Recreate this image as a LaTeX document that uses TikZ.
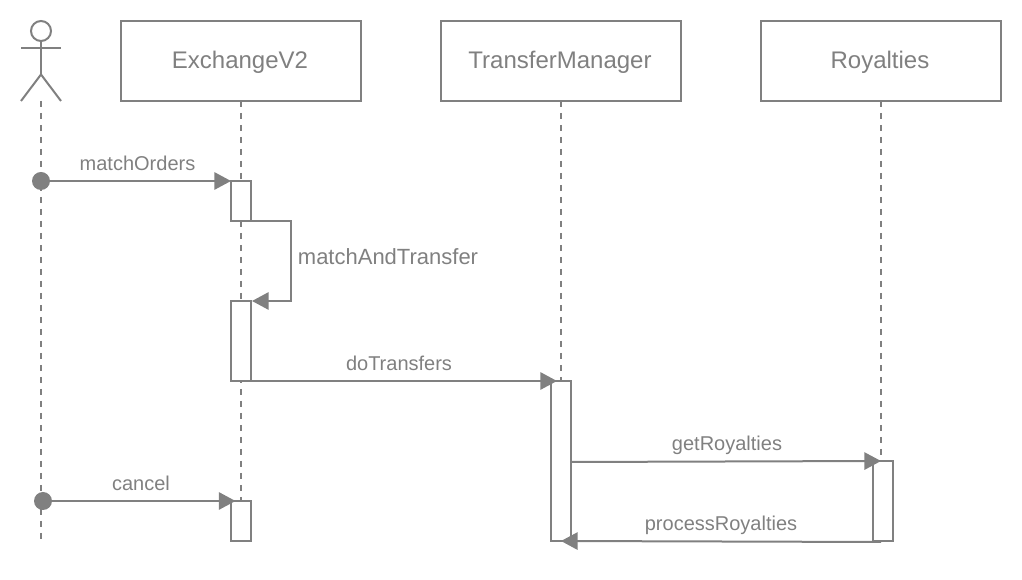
\documentclass[tikz,border=0pt]{standalone}
\usepackage{fontspec}
\setmainfont{Liberation Sans}
\usetikzlibrary{arrows.meta,calc}
\definecolor{ink}{HTML}{808080}
\tikzset{
  x=0.75pt,y=-0.75pt,
  line/.style={draw=ink,line width=1.5pt},
  lifebox/.style={line,fill=white,minimum width=180pt,minimum height=60pt,inner sep=0pt,outer sep=0pt,text=ink,font=\fontsize{18}{18}\selectfont,text height=15.5pt,text depth=3.5pt},
  lifeline/.style={line,dash pattern=on 4.5pt off 4.5pt,line width=1.5pt},
  activation/.style={line,fill=white,minimum width=15pt,inner sep=0pt,outer sep=0pt},
  msg/.style={line,-{Triangle[length=12.5pt,width=13pt,color=ink]}},
  dot/.style={circle,fill=ink,minimum size=13.5pt,inner sep=0pt,outer sep=0pt},
  lbl/.style={text=ink,inner sep=0pt,font=\fontsize{15}{15}\selectfont},
  lblbig/.style={text=ink,inner sep=0pt,font=\fontsize{16.5}{16.5}\selectfont},
}
\begin{document}
\begin{tikzpicture}
\useasboundingbox (0,0) rectangle (1022,580);
% lifeline heads
\node[lifebox] (ex) at (241,61) {\hspace{-1.5pt}ExchangeV2};
\node[lifebox] (tm) at (561,61) {\hspace{-1.5pt}TransferManager};
\node[lifebox] (ro) at (881,61) {\hspace{-1.5pt}Royalties};
% actor
\node[circle,line,minimum size=15pt,inner sep=0pt,outer sep=0pt] (head) at (41,31) {};
\coordinate (hip) at (41,74.5);
\coordinate (armL) at (21,47.7);
\coordinate (armR) at (61,47.7);
\coordinate (legL) at (21,101);
\coordinate (legR) at (61,101);
\coordinate (actorfoot) at (41,101);
\draw[line] (head.south) -- (hip);
\draw[line] (armL) -- (armR);
\draw[line] (legL) -- (hip) -- (legR);
% lifelines
\coordinate (aend) at (41,541);
\coordinate (eend) at (241,541);
\coordinate (tend) at (561,381);
\coordinate (rend) at (881,461);
\draw[lifeline] (actorfoot) -- (aend);
\draw[lifeline] (ex.south) -- (eend);
\draw[lifeline] (tm.south) -- (tend);
\draw[lifeline] (ro.south) -- (rend);
% activations
\node[activation,minimum height=30pt] (a1) at (241,201) {};
\node[activation,minimum height=60pt] (a2) at (241,341) {};
\node[activation,minimum height=30pt] (a3) at (241,521) {};
\node[activation,minimum height=120pt] (a4) at (561,461) {};
\node[activation,minimum height=60pt] (a5) at (883,501) {};
% dots
\node[dot] (d1) at (41,181) {};
\node[dot] (d2) at (43,501) {};
% messages
\draw[msg] (d1) -- (a1.north west);
\coordinate (s1) at (291,221);
\coordinate (s2) at (291,301);
\coordinate (s3) at (252,301);
\draw[msg] (a1.south east) -- (s1) -- (s2) -- (s3);
\coordinate (t1) at (557,381);
\draw[msg] (a2.south east) -- (t1);
\coordinate (c1) at (235.5,501);
\draw[msg] (d2) -- (c1);
\coordinate (g0) at (571,462);
\coordinate (g1) at (881,461);
\draw[msg] (g0) -- (g1);
\coordinate (p0) at (881,542);
\coordinate (p1) at (561,541);
\draw[msg] (p0) -- (p1);
% labels
\node[lbl] (l1) at (137.5,163) {matchOrders};
\node[lblbig] (l2) at (388,257) {matchAndTransfer};
\node[lbl] (l3) at (399,363) {doTransfers};
\node[lbl] (l4) at (727,445) {getRoyalties};
\node[lbl] (l5) at (721,525) {processRoyalties};
\node[lbl] (l6) at (141,483.5) {cancel};
\end{tikzpicture}
\end{document}
